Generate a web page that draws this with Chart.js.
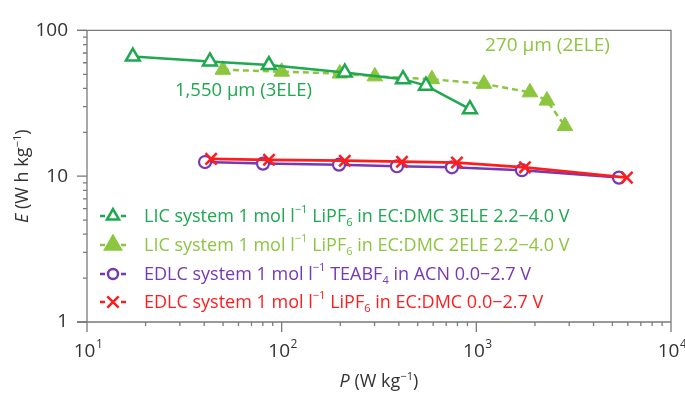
<!DOCTYPE html>
<html>
<head>
<meta charset="utf-8">
<script src="https://cdn.jsdelivr.net/npm/chart.js@4/dist/chart.umd.min.js"></script>
<style>
  html, body { margin: 0; padding: 0; background: #fff; }
  #wrap { width: 685px; height: 395px; }
</style>
</head>
<body>
<div id="wrap"><canvas id="chart" width="685" height="395"></canvas></div>
<script>
// series data (P in W/kg, E in Wh/kg)
const lic3eleP = [17.2, 42.8, 86, 211, 420, 551, 927];
const lic3eleE = [66.1, 61.3, 57.8, 51.4, 46.3, 41.8, 28.8];

const lic2eleP = [49.9, 100, 199, 301, 591, 1094, 1885, 2305, 2851];
const lic2eleE = [53.7, 52.1, 50.6, 48.4, 46.3, 43.0, 37.6, 33.0, 22.1];

const edlcAcnP = [40.4, 80.2, 197, 391, 749, 1715, 5400];
const edlcAcnE = [12.5, 12.2, 12.0, 11.7, 11.5, 11.0, 9.78];

const edlcLiP = [43.4, 86.1, 211, 415, 795, 1777, 5936];
const edlcLiE = [13.15, 12.95, 12.77, 12.58, 12.4, 11.5, 9.78];

// legend labels, ^{} = superscript, _{} = subscript
const seriesNames = [
  'LIC system 1 mol l^{−1} LiPF_{6} in EC:DMC 3ELE 2.2−4.0 V',
  'LIC system 1 mol l^{−1} LiPF_{6} in EC:DMC 2ELE 2.2−4.0 V',
  'EDLC system 1 mol l^{−1} TEABF_{4} in ACN 0.0−2.7 V',
  'EDLC system 1 mol l^{−1} LiPF_{6} in EC:DMC 0.0−2.7 V'
];
const xTicks = [10, 100, 1000, 10000];
const yTicks = [1, 10, 100];
const xTickExp = ['1', '2', '3', '4'];
const notes = ['1,550 μm (3ELE)', '270 μm (2ELE)'];

const darkGreen = '#1ea84f';
const lightGreen = '#8cc63f';
const purple = '#7638b4';
const red = '#ff1c1c';
const FONT = '"Open Sans", "Noto Sans", sans-serif';

const toPts = (xs, ys) => xs.map((v, i) => ({ x: v, y: ys[i] }));

function richText(ctx, str, x, y, size, draw) {
  // parses ^{..} and _{..}; returns width
  const parts = [];
  const re = /([\^_])\{([^}]*)\}/g;
  let last = 0, m;
  while ((m = re.exec(str)) !== null) {
    if (m.index > last) parts.push({ t: str.slice(last, m.index), k: 'n' });
    parts.push({ t: m[2], k: m[1] === '^' ? 'sup' : 'sub' });
    last = re.lastIndex;
  }
  if (last < str.length) parts.push({ t: str.slice(last), k: 'n' });
  let cx = x;
  for (const p of parts) {
    let fs = size, dy = 0;
    if (p.k === 'sup') { fs = size * 0.62; dy = -size * 0.38; }
    if (p.k === 'sub') { fs = size * 0.62; dy = size * 0.3; }
    ctx.font = fs + 'px ' + FONT;
    if (draw) ctx.fillText(p.t, cx, y + dy);
    cx += ctx.measureText(p.t).width;
  }
  return cx - x;
}

const decor = {
  id: 'decor',
  afterDraw(chart) {
    const { ctx, chartArea: a, scales: { x, y } } = chart;
    ctx.save();
    // frame and axes
    ctx.strokeStyle = '#7a7a7a';
    ctx.lineWidth = 1.3;
    ctx.beginPath();
    ctx.moveTo(a.left - 10, a.top); ctx.lineTo(a.right, a.top); ctx.lineTo(a.right, a.bottom);
    ctx.moveTo(a.left - 10, a.bottom); ctx.lineTo(a.right, a.bottom);
    ctx.moveTo(a.left, a.top); ctx.lineTo(a.left, a.bottom);
    ctx.stroke();
    // tick marks
    ctx.beginPath();
    for (let e = 1; e < 4; e++) {
      for (let s = 1; s <= 10; s++) {
        const v = s * Math.pow(10, e);
        const px = x.getPixelForValue(v);
        const len = (s === 1 || s === 10) ? 10 : 4;
        ctx.moveTo(px, a.bottom); ctx.lineTo(px, a.bottom + len);
      }
    }
    for (let e = 0; e < 2; e++) {
      for (let s = 1; s <= 10; s++) {
        const v = s * Math.pow(10, e);
        const py = y.getPixelForValue(v);
        const len = (s === 1 || s === 10) ? 10 : 4;
        ctx.moveTo(a.left, py); ctx.lineTo(a.left - len, py);
      }
    }
    ctx.stroke();

    // x tick labels 10^n
    ctx.fillStyle = '#333';
    ctx.textBaseline = 'alphabetic';
    xTicks.forEach((v, i) => {
      const px = x.getPixelForValue(v);
      ctx.font = '19px ' + FONT;
      const w1 = ctx.measureText('10').width;
      ctx.font = '12px ' + FONT;
      const w2 = ctx.measureText(xTickExp[i]).width;
      const x0 = px - (w1 + w2) / 2 + 1;
      ctx.font = '19px ' + FONT;
      ctx.fillText('10', x0, 357);
      ctx.font = '12px ' + FONT;
      ctx.fillText(xTickExp[i], x0 + w1 + 0.5, 348);
    });

    // axis titles
    ctx.fillStyle = '#333';
    const cx = (a.left + a.right) / 2;
    ctx.font = 'italic 18px ' + FONT;
    const wp = ctx.measureText('P').width;
    const restW = richText(ctx, ' (W kg^{−1})', 0, 0, 18, false);
    let sx = cx - (wp + restW) / 2;
    ctx.font = 'italic 18px ' + FONT;
    ctx.fillText('P', sx, 387);
    richText(ctx, ' (W kg^{−1})', sx + wp, 387, 18, true);

    ctx.save();
    ctx.translate(28, (a.top + a.bottom) / 2);
    ctx.rotate(-Math.PI / 2);
    ctx.font = 'italic 18px ' + FONT;
    const we = ctx.measureText('E').width;
    const rw = richText(ctx, ' (W h kg^{−1})', 0, 0, 18, false);
    sx = -(we + rw) / 2;
    ctx.font = 'italic 18px ' + FONT;
    ctx.fillText('E', sx, 0);
    richText(ctx, ' (W h kg^{−1})', sx + we, 0, 18, true);
    ctx.restore();

    // annotations
    ctx.font = '18.5px ' + FONT;
    ctx.fillStyle = darkGreen;
    ctx.fillText(notes[0], 175, 96);
    ctx.font = '19px ' + FONT;
    ctx.fillStyle = lightGreen;
    ctx.fillText(notes[1], 485, 51);

    // legend
    const rows = [216, 245, 274, 302];
    chart.data.datasets.forEach((ds, i) => {
      const ry = rows[i];
      const col = ds.borderColor;
      ctx.strokeStyle = col;
      ctx.lineWidth = 2.5;
      ctx.beginPath();
      ctx.moveTo(100, ry); ctx.lineTo(105, ry);
      ctx.moveTo(121, ry); ctx.lineTo(126, ry);
      ctx.stroke();
      ctx.fillStyle = ds.pointBackgroundColor;
      ctx.strokeStyle = col;
      ctx.lineWidth = 2.5;
      Chart.helpers.drawPoint(ctx, {
        pointStyle: ds.pointStyle,
        radius: ds.legendRadius,
        borderWidth: 2.5,
        rotation: 0
      }, 113, ry);
      ctx.fillStyle = col;
      ctx.textBaseline = 'middle';
      richText(ctx, seriesNames[i], 144, ry + 1, 18, true);
    });
    ctx.restore();
  }
};

new Chart(document.getElementById('chart'), {
  type: 'line',
  data: {
    datasets: [
      {
        label: seriesNames[0],
        data: toPts(lic3eleP, lic3eleE),
        borderColor: darkGreen,
        backgroundColor: '#fff',
        pointBackgroundColor: '#fff',
        pointBorderColor: darkGreen,
        pointStyle: 'triangle',
        pointRadius: 8,
        pointBorderWidth: 2.5,
        borderWidth: 2.5,
        legendRadius: 7,
        order: 1
      },
      {
        label: seriesNames[1],
        data: toPts(lic2eleP, lic2eleE),
        borderColor: lightGreen,
        backgroundColor: lightGreen,
        pointBackgroundColor: lightGreen,
        pointBorderColor: lightGreen,
        pointStyle: 'triangle',
        pointRadius: 9,
        pointBorderWidth: 1,
        borderWidth: 2.5,
        borderDash: [6, 4],
        legendRadius: 9,
        order: 2
      },
      {
        label: seriesNames[2],
        data: toPts(edlcAcnP, edlcAcnE),
        borderColor: purple,
        backgroundColor: '#fff',
        pointBackgroundColor: '#fff',
        pointBorderColor: purple,
        pointStyle: 'circle',
        pointRadius: 6,
        pointBorderWidth: 2.2,
        borderWidth: 2.5,
        legendRadius: 5,
        order: 4
      },
      {
        label: seriesNames[3],
        data: toPts(edlcLiP, edlcLiE),
        borderColor: red,
        backgroundColor: red,
        pointBackgroundColor: red,
        pointBorderColor: red,
        pointStyle: 'crossRot',
        pointRadius: 8,
        pointBorderWidth: 2.5,
        borderWidth: 2.8,
        legendRadius: 8,
        order: 3
      }
    ]
  },
  options: {
    responsive: false,
    animation: false,
    layout: { padding: { top: 11, right: 14, left: 0, bottom: 0 } },
    plugins: { legend: { display: false }, tooltip: { enabled: false } },
    elements: { line: { tension: 0, fill: false } },
    scales: {
      x: {
        type: 'logarithmic',
        min: 10,
        max: 10000,
        grid: { display: false, drawTicks: false },
        border: { display: false },
        ticks: { display: false },
        afterFit: (s) => { s.height = 73; }
      },
      y: {
        type: 'logarithmic',
        min: 1,
        max: 100,
        grid: { display: false, drawTicks: false },
        border: { display: false },
        afterBuildTicks: (s) => { s.ticks = yTicks.map(v => ({ value: v })); },
        ticks: {
          padding: 19,
          color: '#333',
          font: { size: 19, family: FONT },
          callback: (v) => String(v)
        },
        afterFit: (s) => { s.width = 87; }
      }
    }
  },
  plugins: [decor]
});
</script>
</body>
</html>
